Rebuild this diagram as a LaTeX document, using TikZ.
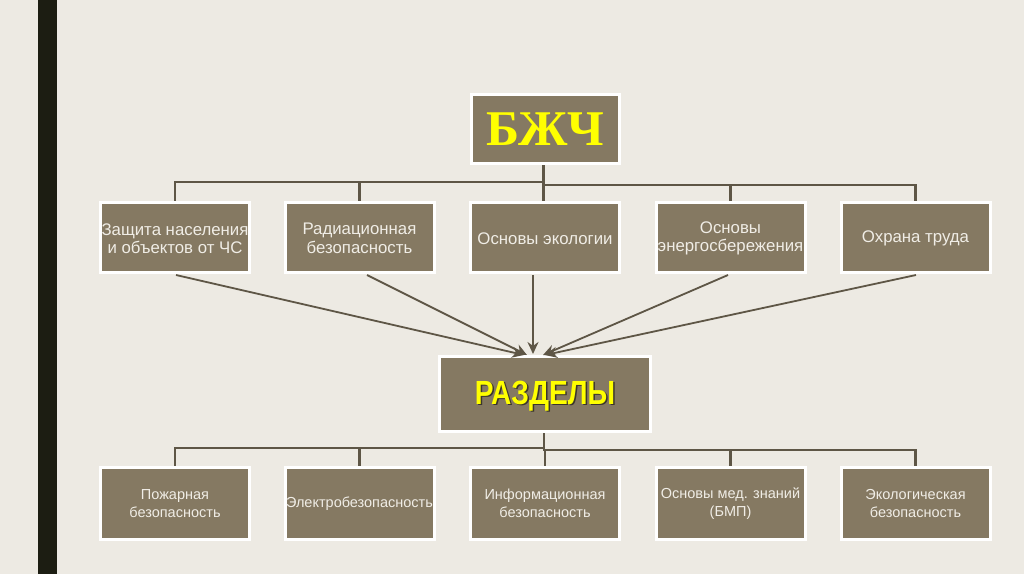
\documentclass[tikz,border=0pt]{standalone}
\usepackage{fontspec}
\setmainfont{Liberation Sans}
\newfontfamily\bjfont{Liberation Serif}
\newfontfamily\razfont[FakeStretch=0.84]{Liberation Sans}
\usetikzlibrary{arrows.meta,calc}
\definecolor{bg}{HTML}{EDEAE3}
\definecolor{boxfill}{HTML}{857962}
\definecolor{conn}{HTML}{5E5646}
\definecolor{barc}{HTML}{1C1D12}
\definecolor{txtc}{HTML}{F0EDE6}
\definecolor{yel}{HTML}{FFFF00}
\begin{document}
\begin{tikzpicture}[x=1pt,y=-1pt,
 box/.style={draw=white,line width=3pt,fill=boxfill,minimum width=149pt,minimum height=70pt,inner sep=0pt},
 lbl/.style={text=txtc,font=\fontsize{14.5}{18}\selectfont,align=center,inner sep=0pt},
 lblbig/.style={lbl,font=\fontsize{16.8}{18.5}\selectfont},
 tree/.style={draw=conn,line width=2.7pt},
 arr/.style={draw=conn,line width=1.8pt,-{Stealth[length=12pt,width=11pt]}}]
\fill[bg] (0,0) rectangle (1024,574);
\useasboundingbox (0,0) rectangle (1024,574);
\fill[barc] (38,0) rectangle (57,574);

% top
\node[box,minimum width=148pt,minimum height=69pt] (top) at (545.5,129) {};
\node[anchor=base,text=yel,inner sep=0pt,font=\bjfont\bfseries\fontsize{50}{50}\selectfont] (toptxt) at ($(top.center)+(0,16)$) {БЖЧ};

% row 1
\node[box] (c1) at (175,237.5) {};
\node[box] (c2) at (359.5,237.5) {};
\node[box] (c3) at (545,237.5) {};
\node[box] (c4) at (730.5,237.5) {};
\node[box] (c5) at (915.5,237.5) {};
\node[lblbig] (t1) at ($(c1)+(0,1)$) {Защита населения\\и объектов от ЧС};
\node[lblbig] (t2) at ($(c2)+(0,1)$) {Радиационная\\безопасность};
\node[lblbig] (t3) at ($(c3)+(0,1)$) {Основы экологии};
\node[lblbig] (t4) at ($(c4)+(0,1)$) {Основы\\энергосбережения};
\node[lblbig] (t5) at ($(c5)+(0,1)$) {Охрана труда};

% middle
\node[box,minimum width=211pt,minimum height=75pt] (razd) at (545,394) {};
\node[anchor=base,text=black,opacity=0.55,inner sep=0pt,font=\razfont\bfseries\fontsize{33.5}{34}\selectfont] (razsh) at ($(razd.center)+(1.5,11.5)$) {РАЗДЕЛЫ};
\node[anchor=base,text=yel,inner sep=0pt,font=\razfont\bfseries\fontsize{33.5}{34}\selectfont] (raztxt) at ($(razd.center)+(0,10)$) {РАЗДЕЛЫ};

% row 2
\node[box,minimum height=72pt] (d1) at (175,503.5) {};
\node[box,minimum height=72pt] (d2) at (359.5,503.5) {};
\node[box,minimum height=72pt] (d3) at (545,503.5) {};
\node[box,minimum height=72pt] (d4) at (730.5,503.5) {};
\node[box,minimum height=72pt] (d5) at (915.5,503.5) {};
\node[lbl] (u1) at (d1) {Пожарная\\безопасность};
\node[lbl] (u2) at (d2) {Электробезопасность};
\node[lbl] (u3) at (d3) {Информационная\\безопасность};
\node[lbl] (u4) at (d4) {Основы мед. знаний\\(БМП)};
\node[lbl] (u5) at (d5) {Экологическая\\безопасность};

% tree connectors top
\draw[tree] ($(top.south)+(-2,0)$) -- ++(0,17) -| (c1.north);
\draw[tree] ($(top.south)+(-2,0)$) -- ++(0,17) -| (c2.north);
\draw[tree] ($(top.south)+(-2,0)$) -- (c3.north -| {$(top.south)+(-2,0)$});
\draw[tree] ($(top.south)+(-2,0)$) -- ++(0,20) -| (c4.north);
\draw[tree] ($(top.south)+(-2,0)$) -- ++(0,20) -| (c5.north);

% tree connectors middle
\draw[tree] ($(razd.south)+(-1,0)$) -- ++(0,15) -| (d1.north);
\draw[tree] ($(razd.south)+(-1,0)$) -- ++(0,15) -| (d2.north);
\draw[tree] ($(razd.south)+(-1,0)$) -- ++(0,17) -| (d3.north);
\draw[tree] ($(razd.south)+(-1,0)$) -- ++(0,17) -| (d4.north);
\draw[tree] ($(razd.south)+(-1,0)$) -- ++(0,17) -| (d5.north);

% arrows
\draw[arr] ($(c1.south)+(1,1)$) -- ($(razd.north)+(-21,0)$);
\draw[arr] ($(c2.south)+(7.5,1)$) -- ($(razd.north)+(-18,0)$);
\draw[arr] ($(c3.south)+(-12,1)$) -- ($(razd.north)+(-12,-1)$);
\draw[arr] ($(c4.south)+(-2.5,1)$) -- ($(razd.north)+(-2,0)$);
\draw[arr] ($(c5.south)+(0.5,1)$) -- ($(razd.north)+(0,0)$);
\end{tikzpicture}
\end{document}
